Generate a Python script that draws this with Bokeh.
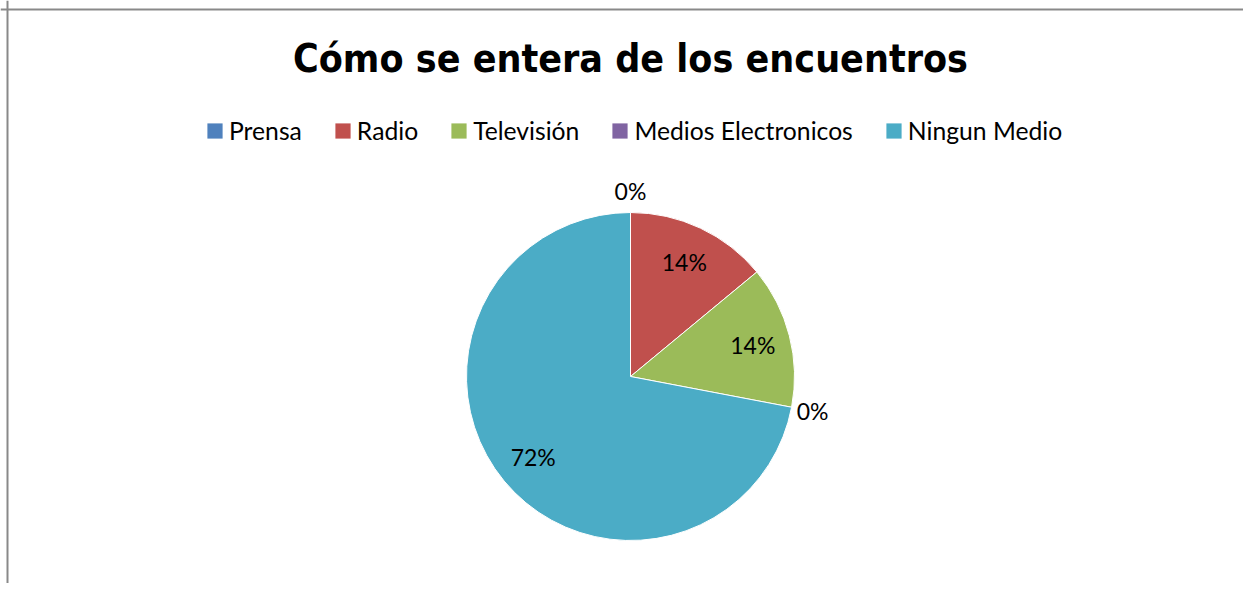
import math
from bokeh.plotting import figure
from bokeh.models import ColumnDataSource, Range1d, Legend, LegendItem, Span
from bokeh.core.properties import value
from bokeh.embed import file_html
from bokeh.resources import INLINE

# ---- data ----
title_text = "Cómo se entera de los encuentros"
categories = ["Prensa", "Radio", "Televisión", "Medios Electronicos", "Ningun Medio"]
values = [0, 14, 14, 0, 72]
colors = ["#4F81BD", "#C0504D", "#9BBB59", "#8064A2", "#4BACC6"]

# ---- layout constants ----
W, H = 1243, 583
R_PX = 164.0           # pie radius in pixels
CX, CY = 630.0, 376.0  # pie centre in canvas pixels (from top-left)

total = float(sum(values))
starts, ends, lx, ly, labels = [], [], [], [], []
cum = 0.0
for v in values:
    a0 = math.pi / 2 - 2 * math.pi * cum / total
    cum += v
    a1 = math.pi / 2 - 2 * math.pi * cum / total
    starts.append(a0)
    ends.append(a1)
    mid = (a0 + a1) / 2
    r = 0.77 if v > 0 else 1.13
    lx.append(r * math.cos(mid))
    ly.append(r * math.sin(mid))
    labels.append(f"{round(100 * v / total)}%")

nz = [i for i, v in enumerate(values) if v > 0]
src = ColumnDataSource(dict(cat=[categories[i] for i in nz],
                            color=[colors[i] for i in nz],
                            start=[starts[i] for i in nz],
                            end=[ends[i] for i in nz],
                            x=[0] * len(nz), y=[0] * len(nz)))
lab_src = ColumnDataSource(dict(x=lx, y=ly, text=labels))

p = figure(width=W, height=H, output_backend="svg", toolbar_location=None,
           x_range=Range1d(-CX / R_PX, (W - CX) / R_PX),
           y_range=Range1d(-(H - CY) / R_PX, CY / R_PX),
           min_border=0)
p.axis.visible = False
p.grid.visible = False
p.outline_line_color = None
p.background_fill_color = "white"

p.wedge(x="x", y="y", radius=1.0, start_angle="start", end_angle="end",
        direction="clock", fill_color="color", line_color="white",
        line_width=1, source=src)

# legend swatches: one off-screen (NaN) entry per category
nan = float("nan")
leg_renderers = []
for c, col in zip(categories, colors):
    r = p.wedge(x=[nan], y=[nan], radius=1.0, start_angle=[0.0], end_angle=[0.0],
                fill_color=col, line_color=None)
    leg_renderers.append(r)

p.text(x="x", y="y", text="text", source=lab_src, text_align="center",
       text_baseline="middle", text_font=value("Lato"),
       text_font_size="23px", text_color="#000000")

p.text(x=[0], y=[(CY - 58) / R_PX], text=[title_text], text_align="center",
       text_baseline="alphabetic", text_font=value("DejaVu Sans Condensed"),
       text_font_style="bold", text_font_size="39px", text_color="#000000")

items = [LegendItem(label=c, renderers=[r]) for c, r in zip(categories, leg_renderers)]
legend = Legend(items=items, orientation="horizontal", location=(205, 583 - 145),
                margin=0, padding=0, spacing=31, glyph_width=19,
                glyph_height=19, label_standoff=5,
                label_text_font="Lato", label_text_font_size="24.7px",
                label_text_color="#000000", border_line_color=None,
                background_fill_alpha=0)
p.add_layout(legend, "center")

# chart-area border (left and top edges visible in reference)
p.add_layout(Span(location=p.x_range.start + 7 / R_PX, dimension="height",
                  line_color="#898989", line_width=2))
p.add_layout(Span(location=p.y_range.end - 9 / R_PX, dimension="width",
                  line_color="#898989", line_width=2))

open("out.html", "w").write(file_html(p, INLINE))
